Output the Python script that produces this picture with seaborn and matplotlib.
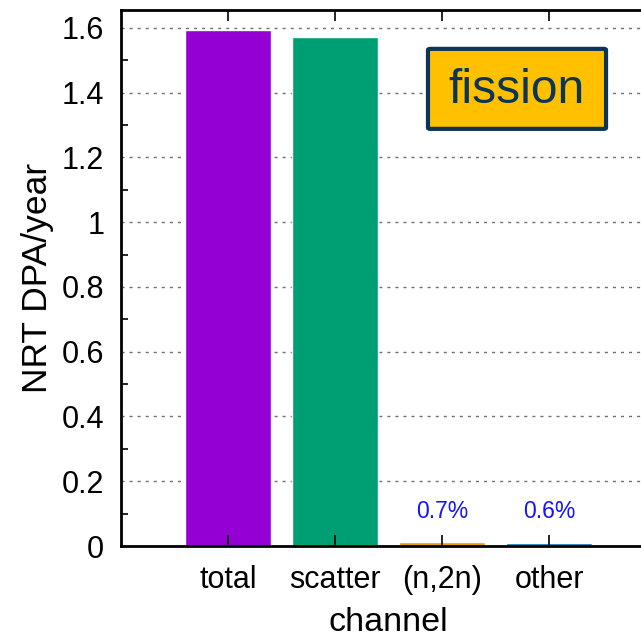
import matplotlib
matplotlib.use("Agg")
import matplotlib.pyplot as plt
from matplotlib.patches import FancyBboxPatch
from matplotlib.ticker import MultipleLocator
import seaborn as sns
import pandas as pd

channels = ["total", "scatter", "(n,2n)", "other"]
dpa_per_year = [1.593, 1.571, 0.0111, 0.0095]
share_labels = ["", "", "0.7%", "0.6%"]
bar_colors = ["#9400D3", "#009E73", "#E69F00", "#0072B2"]
ytick_values = [0, 0.2, 0.4, 0.6, 0.8, 1.0, 1.2, 1.4, 1.6]
ytick_labels = ["0", "0.2", "0.4", "0.6", "0.8", "1", "1.2", "1.4", "1.6"]

sns.set_style("white")
plt.rcParams["font.family"] = ["Liberation Sans", "DejaVu Sans"]
plt.rcParams["text.color"] = "black"
plt.rcParams["axes.labelcolor"] = "black"
plt.rcParams["xtick.color"] = "black"
plt.rcParams["ytick.color"] = "black"

df = pd.DataFrame({"channel": channels, "dpa": dpa_per_year})

fig = plt.figure(figsize=(6.41, 6.38), dpi=100)
ax = fig.add_axes([121 / 641, 1 - 546 / 638, 535 / 641, 536 / 638])

sns.barplot(data=df, x="channel", y="dpa", hue="channel", palette=bar_colors,
            order=channels, width=0.81, saturation=1, legend=False, ax=ax, zorder=2)

ax.set_xlim(-1, 4)
ax.set_ylim(0, 1.655)
ax.set_yticks(ytick_values)
ax.set_yticklabels(ytick_labels)
ax.yaxis.set_minor_locator(MultipleLocator(0.1))

# dotted horizontal grid drawn beneath the bars; axis ticks stay on top
for yv in ytick_values[1:]:
    ax.axhline(yv, color="#707070", linestyle=(0, (2.2, 3.6)), linewidth=1.0, zorder=1)
ax.grid(False)
ax.set_axisbelow(False)

for s in ax.spines.values():
    s.set_linewidth(2.0)
    s.set_color("black")
    s.set_zorder(5)

ax.tick_params(axis="both", which="major", direction="in", labelsize=22,
               length=8, width=1.2, pad=12)
ax.tick_params(axis="y", which="minor", direction="in", length=5, width=1.2, left=True)
ax.tick_params(axis="x", top=True, bottom=True, pad=14)
ax.tick_params(axis="y", right=True, which="both")

ax.set_xlabel("channel", fontsize=24.5, labelpad=8)
ax.set_ylabel("NRT DPA/year", fontsize=25.5, labelpad=6)

for i, lab in enumerate(share_labels):
    if lab:
        ax.text(i, 0.108, lab, color="#1414F5", fontsize=16.5,
                ha="center", va="center", zorder=4)

# "fission" tag in the upper right
tag = FancyBboxPatch((1.869, 1.288), 1.664, 0.247,
                     boxstyle="round,pad=0,rounding_size=0.02",
                     facecolor="#FFC000", edgecolor="#0B3556", linewidth=3,
                     mutation_aspect=0.2, zorder=6)
ax.add_patch(tag)
ax.text(2.70, 1.405, "fission", fontsize=34.5, color="#0B3556",
        ha="center", va="center", zorder=7)

fig.savefig("out.png", dpi=100)
